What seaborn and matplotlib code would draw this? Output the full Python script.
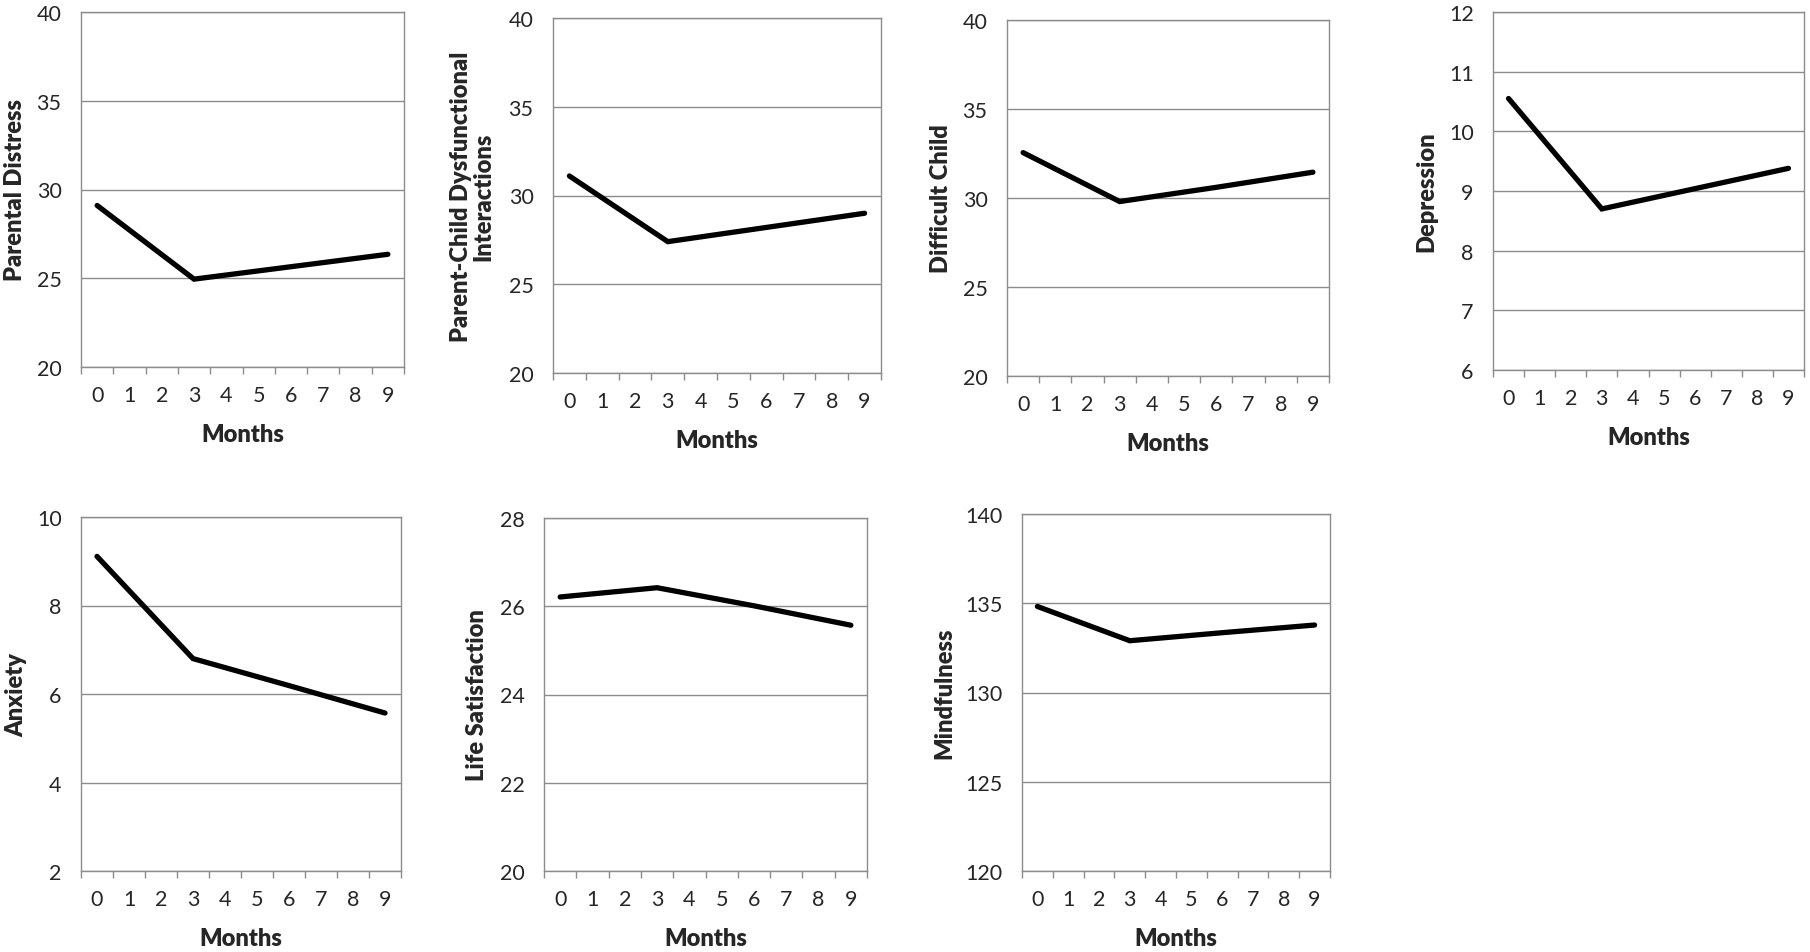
import numpy as np
import pandas as pd
import matplotlib
matplotlib.use("Agg")
import matplotlib.pyplot as plt
import seaborn as sns

# values (months 0, 3, 6, 9)
months = [0, 3, 6, 9]
month_ticks = list(range(10))

parental_distress = [29.1, 24.95, 25.65, 26.35]
parent_child = [31.1, 27.4, 28.2, 29.0]
difficult_child = [32.55, 29.8, 30.6, 31.45]
depression = [10.55, 8.70, 9.04, 9.38]
anxiety = [9.11, 6.80, 6.19, 5.57]
life_satisfaction = [26.21, 26.42, 26.01, 25.57]
mindfulness = [134.82, 132.9, 133.35, 133.78]

labels = ["Parental Distress", "Parent-Child Dysfunctional\nInteractions",
          "Difficult Child", "Depression", "Anxiety", "Life Satisfaction",
          "Mindfulness"]
series = [parental_distress, parent_child, difficult_child, depression,
          anxiety, life_satisfaction, mindfulness]
y_ranges = [(20, 40, 5), (20, 40, 5), (20, 40, 5), (6, 12, 1),
            (2, 10, 2), (20, 28, 2), (120, 140, 5)]

# panel boxes in pixels: left, right, top, bottom ; ylabel centre x
W, H = 1810, 953
boxes = [(81, 404, 13, 368, 15),
         (553, 881, 19, 374, 472),
         (1007, 1329, 21, 377, 941),
         (1493, 1804, 13, 371, 1426),
         (81, 401, 518, 872, 16),
         (544, 867, 519, 872, 477),
         (1022, 1330, 515, 872, 944)]

sns.set_style("white")
plt.rcParams["font.family"] = ["Lato", "DejaVu Sans"]

GRAY = "#8c8c8c"

fig = plt.figure(figsize=(W / 100, H / 100), dpi=100)

for label, vals, (lo, hi, step), (l, r, t, b, lx) in zip(labels, series, y_ranges, boxes):
    ax = fig.add_axes([l / W, 1 - b / H, (r - l) / W, (b - t) / H])
    df = pd.DataFrame({"Months": months, "Value": vals})
    sns.lineplot(data=df, x="Months", y="Value", ax=ax, color="black",
                 linewidth=3.8, solid_capstyle="round", solid_joinstyle="miter")

    ax.set_xlim(-0.5, 9.5)
    ax.set_ylim(lo, hi)
    ax.set_yticks(np.arange(lo, hi + step / 2, step))
    ax.set_xticks(month_ticks)
    ax.set_xticks(np.arange(-0.5, 10, 1), minor=True)
    ax.tick_params(axis="x", which="major", length=0, pad=13, labelsize=15.5)
    ax.tick_params(axis="x", which="minor", length=4.8, width=1, color=GRAY,
                   direction="out", bottom=True)
    ax.tick_params(axis="y", length=0, pad=14, labelsize=15.5)

    ax.yaxis.grid(True, color=GRAY, linewidth=1)
    ax.xaxis.grid(False)
    ax.set_axisbelow(True)
    for s in ax.spines.values():
        s.set_color(GRAY)
        s.set_linewidth(1)
        s.set_visible(True)

    ax.set_xlabel("Months", fontsize=17, fontweight="heavy")
    ax.xaxis.set_label_coords(0.5, -67 / (b - t))
    ax.xaxis.label.set_verticalalignment("center")
    ax.set_ylabel(label, fontsize=17, fontweight="heavy", linespacing=1.0)
    ax.yaxis.set_label_coords((lx - l) / (r - l), 0.5)
    ax.yaxis.label.set_verticalalignment("center")

fig.savefig("out.png", dpi=100, facecolor="white")
